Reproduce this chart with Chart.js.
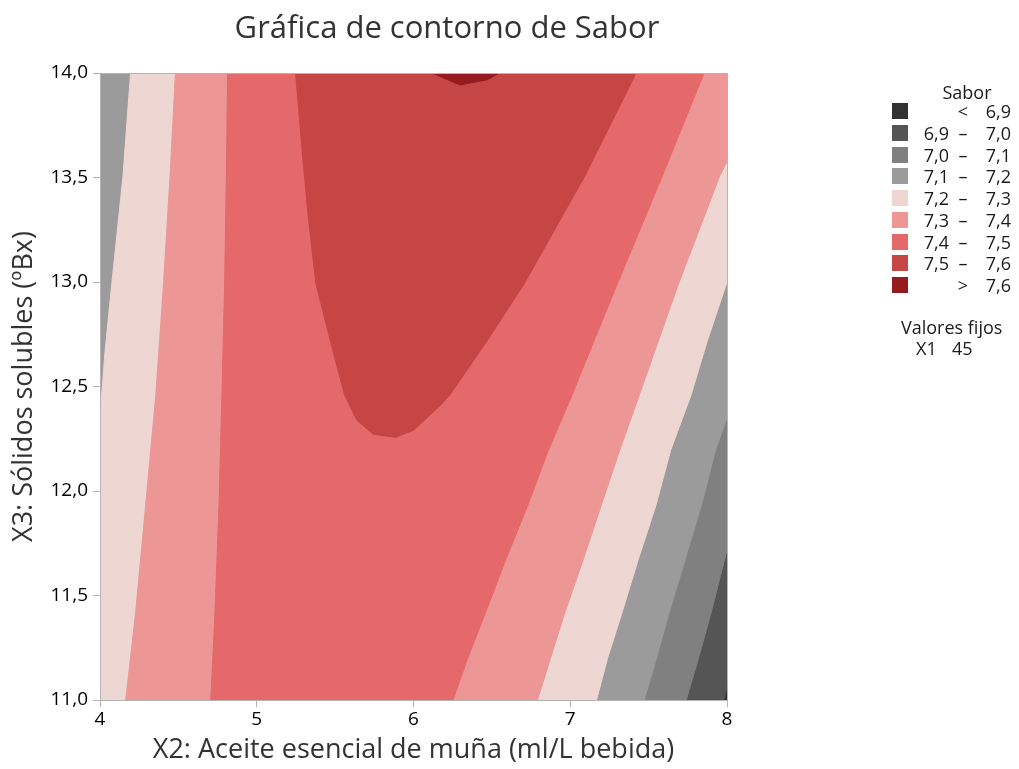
<!DOCTYPE html>
<html>
<head>
<meta charset="utf-8">
<script src="https://cdn.jsdelivr.net/npm/chart.js@4.4.1/dist/chart.umd.min.js"></script>
<style>
  html, body { margin: 0; padding: 0; background: #fff; }
  #wrap { position: relative; width: 1019px; height: 769px; font-family: 'Open Sans', 'Noto Sans', sans-serif; color: #333; }
  #grafico { position: absolute; left: 0; top: 0; }
  #titulo { position: absolute; left: 0; width: 894px; top: 6px; text-align: center; font-size: 31px; line-height: 40px; color: #333; }
  #leyenda { position: absolute; left: 0; top: 0; width: 1019px; height: 769px; font-size: 18px; color: #1a1a1a; }
  #leyenda div { position: absolute; white-space: nowrap; line-height: 22px; }
  .cuadro { width: 16px; height: 16px; }
</style>
</head>
<body>
<div id="wrap">
  <canvas id="grafico" width="1019" height="769"></canvas>
  <div id="titulo">Gráfica de contorno de Sabor</div>
  <div id="leyenda"></div>
</div>
<script>
// Límites del dominio (ejes)
const xMin = 4, xMax = 8, yMin = 11, yMax = 14;

// Niveles de contorno y colores de cada banda (< 6,9 ... > 7,6)
const niveles = [6.9, 7.0, 7.1, 7.2, 7.3, 7.4, 7.5, 7.6];
const colores = ['#333333', '#555555', '#808080', '#9b9b9b', '#eed7d2', '#ec9796', '#e5686a', '#c64545', '#951b1f'];

// Líneas de contorno: [X2, X3]
const c69Der = [[8.0, 11.064], [7.979, 11.0]];
const c70Der = [[8.0, 11.718], [7.896, 11.41], [7.818, 11.2], [7.740, 11.0]];
const c71Der = [[8.0, 12.35], [7.927, 12.196], [7.836, 11.93], [7.732, 11.67], [7.628, 11.41], [7.550, 11.2], [7.472, 11.0]];
const c72Izq = [[4.195, 14.0], [4.147, 13.51], [4.075, 12.99], [4.03, 12.65], [4.0, 12.35]];
const c72Der = [[8.0, 13.0], [7.875, 12.72], [7.771, 12.46], [7.641, 12.196], [7.546, 11.93], [7.433, 11.67], [7.327, 11.41], [7.238, 11.2], [7.168, 11.0]];
const c73Izq = [[4.481, 14.0], [4.447, 13.51], [4.405, 12.99], [4.356, 12.46], [4.291, 11.93], [4.226, 11.41], [4.164, 11.0]];
const c73Der = [[8.0, 13.576], [7.955, 13.51], [7.69, 12.99], [7.563, 12.72], [7.441, 12.46], [7.316, 12.196], [7.197, 11.93], [7.082, 11.67], [6.962, 11.41], [6.874, 11.2], [6.791, 11.0]];
const c74Izq = [[4.814, 14.0], [4.806, 13.51], [4.795, 12.99], [4.778, 12.46], [4.759, 11.93], [4.733, 11.41], [4.707, 11.0]];
const c74Der = [[7.854, 14.0], [7.589, 13.51], [7.300, 12.99], [7.152, 12.72], [7.012, 12.46], [6.861, 12.196], [6.728, 11.93], [6.588, 11.67], [6.455, 11.41], [6.346, 11.2], [6.252, 11.0]];
const c75 = [[5.248, 14.0], [5.295, 13.58], [5.330, 13.3], [5.378, 12.99], [5.469, 12.72], [5.560, 12.46], [5.638, 12.34], [5.743, 12.271], [5.886, 12.257], [6.003, 12.292], [6.185, 12.42], [6.231, 12.459], [6.471, 12.72], [6.705, 12.99], [7.095, 13.51], [7.42, 14.0]];
const c76 = [[6.120, 14.0], [6.211, 13.97], [6.296, 13.943], [6.471, 13.968], [6.549, 14.0]];

const valoresFijos = [['X1', '45']];

const fmt = v => v.toFixed(1).replace('.', ',');
const rev = a => [...a].reverse();
const poly = (...partes) => [].concat(...partes).map(p => ({ x: p[0], y: p[1] }));

const tl = [xMin, yMax], tr = [xMax, yMax], br = [xMax, yMin], bl = [xMin, yMin];

// Región "valor >= nivel" para cada banda, pintadas de abajo hacia arriba
const regiones = [
    poly([tl, tr, br, bl]),
    poly([tl, tr], c69Der, [bl]),
    poly([tl, tr], c70Der, [bl]),
    poly([tl, tr], c71Der, [bl]),
    poly(c72Izq, [bl], rev(c72Der), [tr]),
    poly(c73Izq, rev(c73Der), [tr]),
    poly(c74Izq, rev(c74Der)),
    poly(c75),
    poly(c76)
];

const marco = {
    id: 'marco',
    afterDraw(chart) {
        const a = chart.chartArea, ctx = chart.ctx;
        ctx.save();
        ctx.strokeStyle = '#b4b4b4';
        ctx.lineWidth = 1;
        ctx.strokeRect(Math.round(a.left) + 0.5, Math.round(a.top) + 0.5, Math.round(a.right - a.left), Math.round(a.bottom - a.top));
        ctx.restore();
    }
};

const fuente = "'Open Sans', 'Noto Sans', sans-serif";
Chart.defaults.font.family = fuente;

new Chart(document.getElementById('grafico'), {
    type: 'line',
    data: {
        datasets: regiones.map((data, i) => ({
            data,
            backgroundColor: colores[i],
            borderColor: colores[i],
            borderWidth: 1,
            fill: 'shape',
            pointRadius: 0,
            tension: 0,
            order: -i
        }))
    },
    options: {
        responsive: false,
        animation: false,
        devicePixelRatio: 1,
        layout: { padding: { top: 73, right: 292, left: 0, bottom: 0 } },
        plugins: { legend: { display: false }, tooltip: { enabled: false } },
        scales: {
            x: {
                type: 'linear', min: xMin, max: xMax,
                ticks: { stepSize: 1, color: '#000', font: { size: 19 }, padding: 1 },
                grid: { drawOnChartArea: false, tickLength: 7, color: '#b4b4b4' },
                border: { color: '#b4b4b4' },
                title: { display: true, text: 'X2: Aceite esencial de muña (ml/L bebida)', color: '#333', font: { size: 27 }, padding: { bottom: 2 } },
                afterFit: s => { s.height = 69; }
            },
            y: {
                type: 'linear', min: yMin, max: yMax,
                ticks: { stepSize: 0.5, color: '#000', font: { size: 19 }, padding: 5, callback: v => fmt(v) },
                grid: { drawOnChartArea: false, tickLength: 7, color: '#b4b4b4' },
                border: { color: '#b4b4b4' },
                title: { display: true, text: 'X3: Sólidos solubles (ºBx)', color: '#333', font: { size: 27 }, padding: { top: 8 } },
                afterFit: s => { s.width = 100; }
            }
        }
    },
    plugins: [marco]
});

// Leyenda
const ley = document.getElementById('leyenda');
function pon(html, left, top, extra) {
    const d = document.createElement('div');
    d.innerHTML = html;
    d.style.left = left + 'px';
    d.style.top = top + 'px';
    if (extra) Object.assign(d.style, extra);
    ley.appendChild(d);
    return d;
}
pon('Sabor', 917, 81, { width: '100px', textAlign: 'center' });
colores.forEach((c, i) => {
    const y = 111 + i * 21.75;
    const sq = pon('', 892, y - 8, { background: c });
    sq.className = 'cuadro';
    let lo = '', sym = '', hi = '';
    if (i === 0) { sym = '<'; hi = fmt(niveles[0]); }
    else if (i === colores.length - 1) { sym = '>'; hi = fmt(niveles[niveles.length - 1]); }
    else { lo = fmt(niveles[i - 1]); sym = '–'; hi = fmt(niveles[i]); }
    pon(lo, 899, y - 11, { width: '50px', textAlign: 'right' });
    pon(sym, 953, y - 11, { width: '20px', textAlign: 'center' });
    pon(hi, 960, y - 11, { width: '51px', textAlign: 'right' });
});
pon('Valores fijos', 901, 316);
valoresFijos.forEach((v, i) => {
    pon(v[0], 916, 337 + i * 21);
    pon(v[1], 952, 337 + i * 21);
});
</script>
</body>
</html>
